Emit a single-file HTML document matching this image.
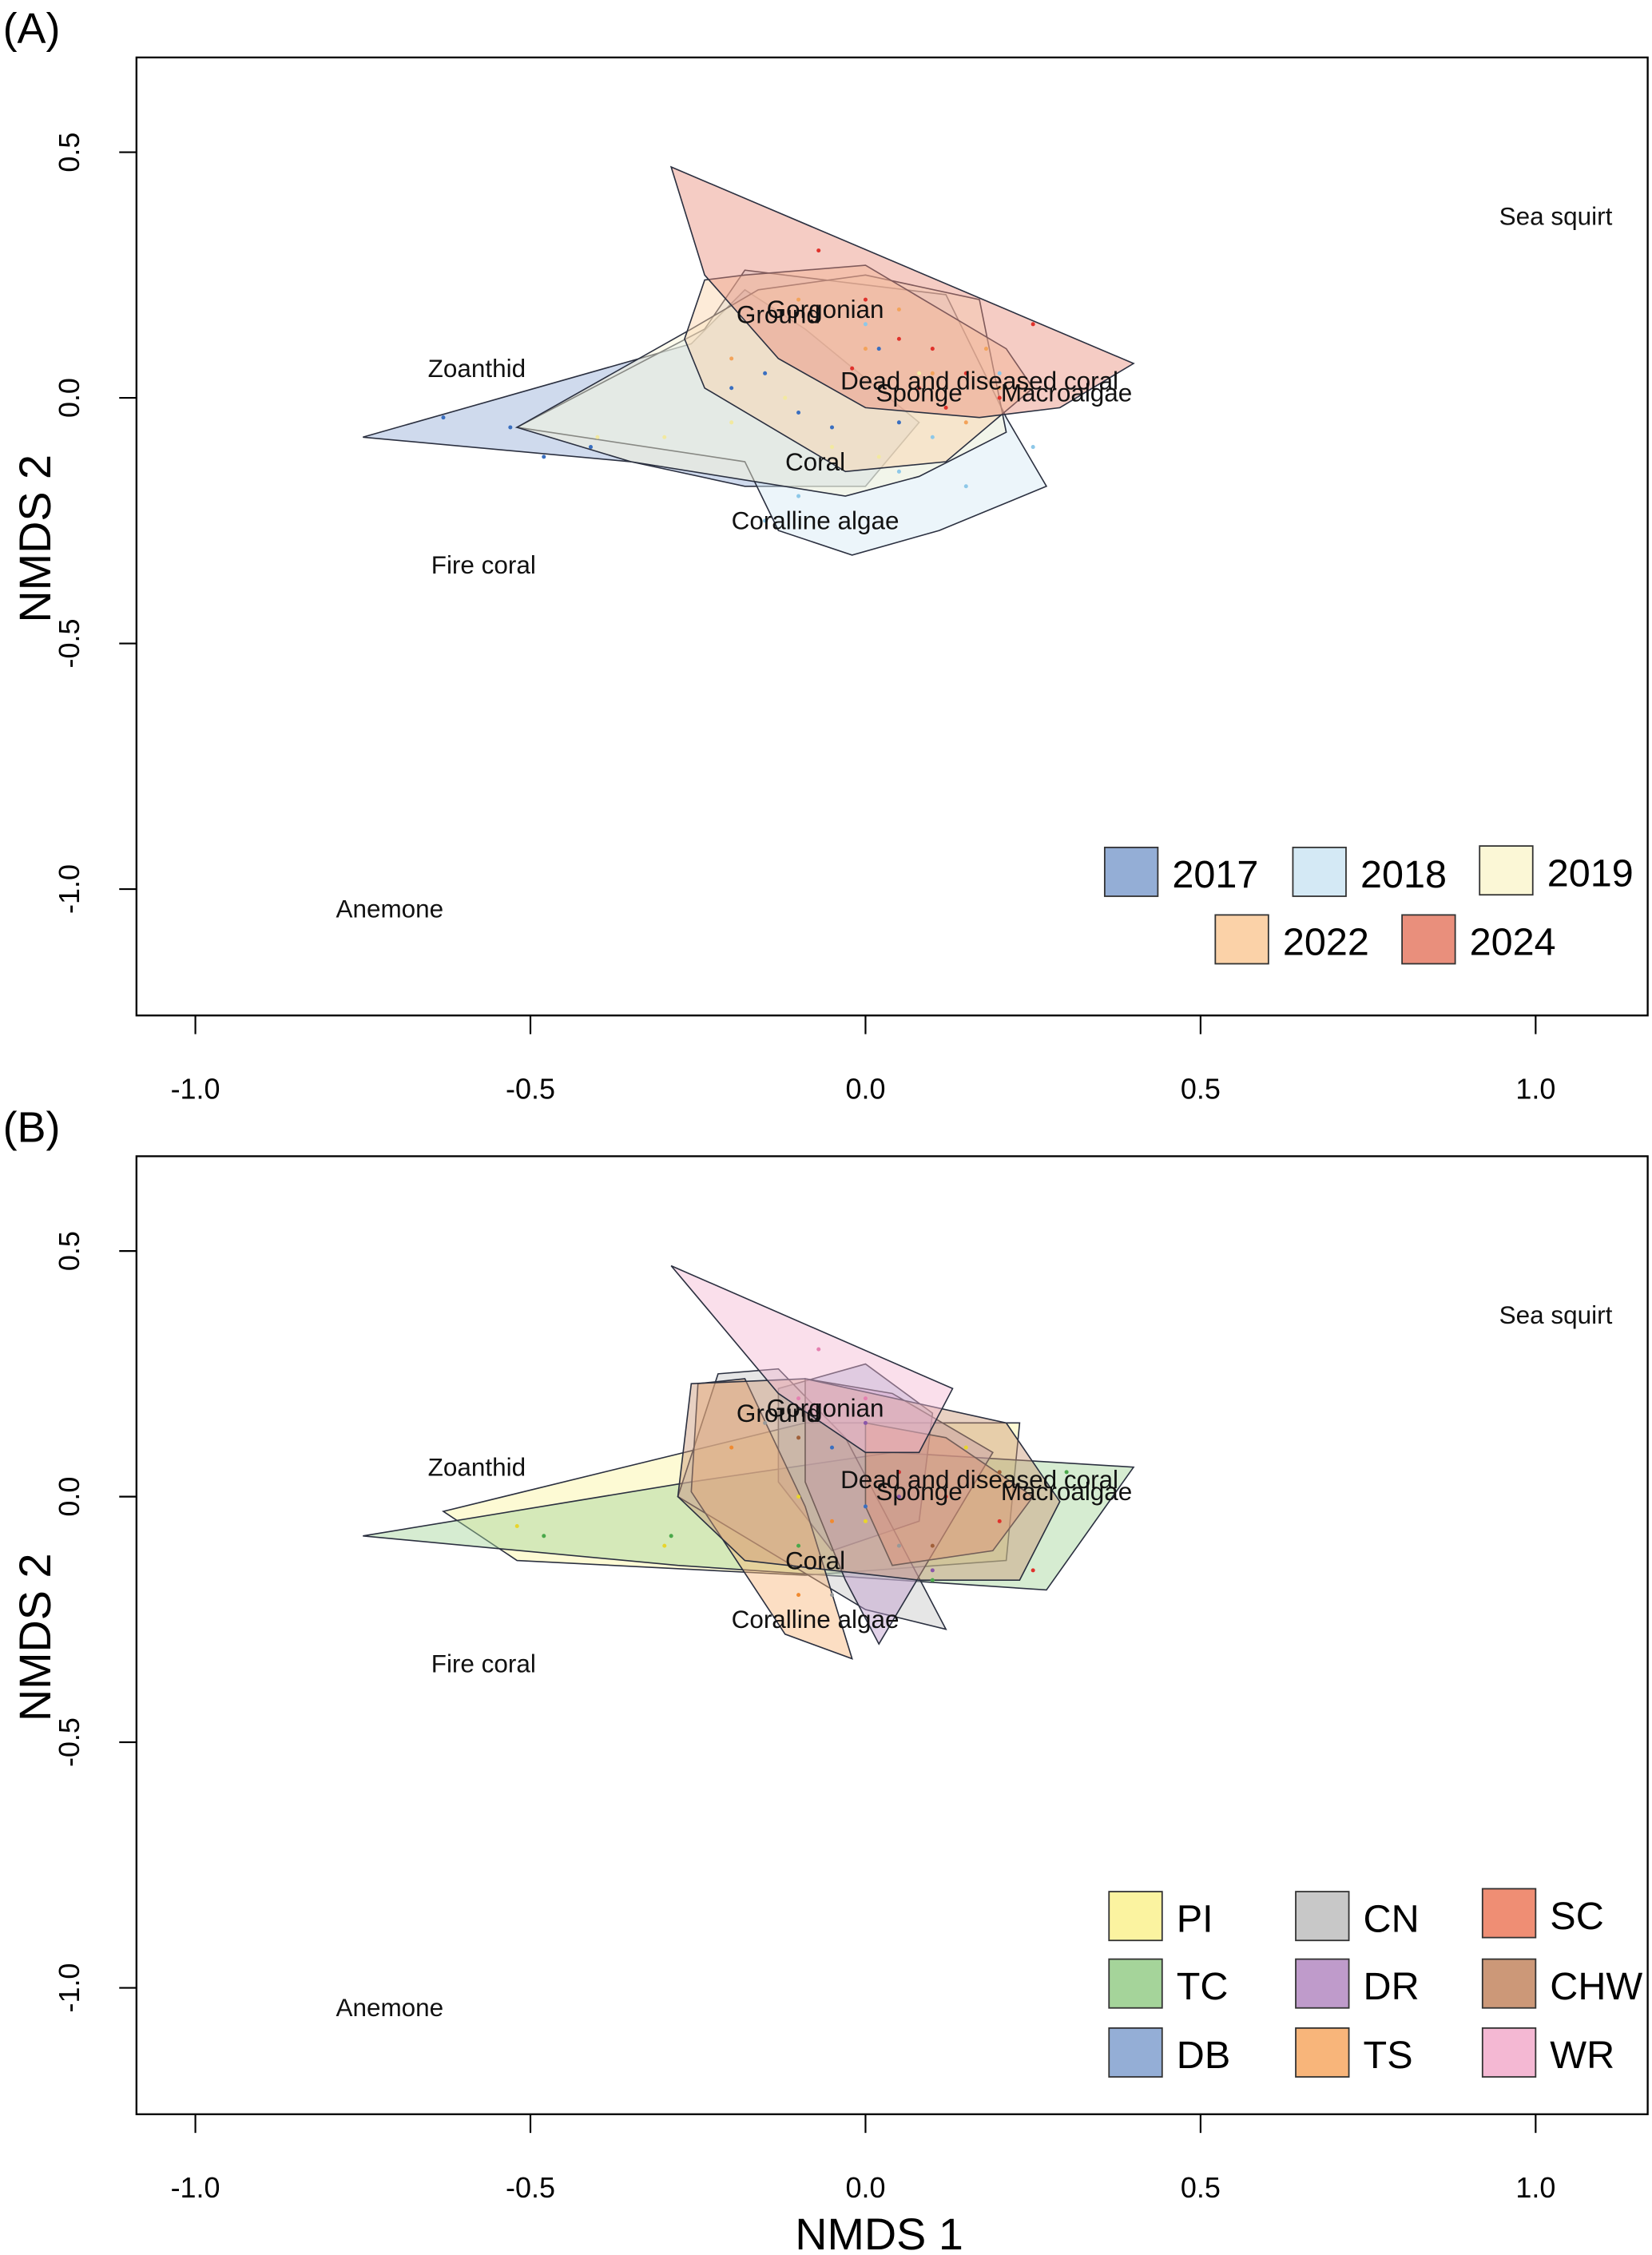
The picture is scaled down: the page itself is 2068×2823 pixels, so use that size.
<!DOCTYPE html>
<html><head><meta charset="utf-8"><style>
html,body{margin:0;padding:0;background:#fff}
svg{display:block}
text{font-family:"Liberation Sans","DejaVu Sans",sans-serif}
</style></head>
<body>
<svg id="chart" width="2068" height="2823" viewBox="0 0 1150 1570" preserveAspectRatio="none" xmlns="http://www.w3.org/2000/svg"></svg>
<script>
const xTicks=[-1.0,-0.5,0.0,0.5,1.0];
const xTickLabels=["-1.0","-0.5","0.0","0.5","1.0"];
const yTicks=[0.5,0.0,-0.5,-1.0];
const yTickLabels=["0.5","0.0","-0.5","-1.0"];
const speciesNames=["Sea squirt","Gorgonian","Ground","Zoanthid","Dead and diseased coral","Sponge","Macroalgae","Coral","Coralline algae","Fire coral","Anemone"];
const speciesX=[1.03,-0.06,-0.13,-0.58,0.17,0.08,0.30,-0.075,-0.075,-0.57,-0.71];
const speciesY=[0.37,0.18,0.17,0.06,0.035,0.01,0.01,-0.13,-0.25,-0.34,-1.04];

const yearGroups=["2017","2018","2019","2022","2024"];
const yearColors=["#94aed6","#d4e9f5","#fbf7d6","#fbd2a8","#e98f7c"];
const yearPointColors=["#3a6fc0","#8ec8e8","#f2e9a0","#f3a35a","#e0312b"];
const yearHulls=[
 [[-0.75,-0.08],[-0.35,-0.13],[-0.18,-0.18],[0,-0.18],[0.08,-0.05],[-0.09,0.14],[-0.18,0.22],[-0.26,0.11]],
 [[-0.52,-0.06],[-0.24,0.14],[-0.18,0.26],[0.12,0.21],[0.21,-0.04],[0.27,-0.18],[0.11,-0.27],[-0.02,-0.32],[-0.13,-0.27],[-0.18,-0.13]],
 [[-0.52,-0.06],[-0.26,0.14],[-0.16,0.22],[0,0.25],[0.17,0.2],[0.21,-0.07],[0.08,-0.16],[-0.03,-0.2],[-0.35,-0.13]],
 [[-0.27,0.12],[-0.24,0.24],[-0.18,0.25],[0,0.27],[0.21,0.1],[0.25,0.02],[0.12,-0.13],[-0.03,-0.15],[-0.24,0.02]],
 [[-0.29,0.47],[0.40,0.07],[0.29,-0.02],[0.17,-0.04],[0,-0.02],[-0.13,0.08],[-0.24,0.25]]
];
const yearPointsX=[[-0.63,-0.53,-0.48,-0.41,-0.2,-0.15,-0.1,-0.05,0.02,0.05],[-0.1,0.05,0.15,0.2,0.25,-0.15,0.1,0.0],[-0.3,-0.2,-0.12,-0.05,0.02,0.08,-0.4,0.12],[-0.1,0.05,0.1,0.18,0.2,-0.2,0.0,0.15],[-0.07,0.0,0.05,0.1,0.15,0.2,0.25,0.08,-0.02,0.12]];
const yearPointsY=[[-0.04,-0.06,-0.12,-0.1,0.02,0.05,-0.03,-0.06,0.1,-0.05],[-0.2,-0.15,-0.18,0.05,-0.1,-0.25,-0.08,0.15],[-0.08,-0.05,0.0,-0.1,-0.12,0.05,-0.08,-0.02],[0.2,0.18,0.05,0.1,0.02,0.08,0.1,-0.05],[0.3,0.2,0.12,0.1,0.05,0.0,0.15,0.02,0.06,-0.02]];

const siteGroups=["PI","TC","DB","CN","DR","TS","SC","CHW","WR"];
const siteColors=["#fbf3a0","#a5d49a","#94aed6","#c8c8c8","#bf9bcb","#f8b57a","#ef8e74","#cc9878","#f4b8d3"];
const sitePointColors=["#e8d52c","#4aa84a","#3a6fc0","#999999","#8a56a8","#f08a30","#e0312b","#a0603a","#e580b0"];
const siteHulls=[
 [[-0.63,-0.03],[-0.52,-0.13],[-0.09,-0.16],[0.21,-0.13],[0.23,0.15],[-0.09,0.15]],
 [[-0.75,-0.08],[-0.28,-0.14],[0.27,-0.19],[0.40,0.06],[0.04,0.09],[-0.26,0.03]],
 [[-0.13,0.22],[0,0.27],[0.1,0.17],[0.08,-0.05],[-0.05,-0.11],[-0.13,0.03]],
 [[-0.22,0.25],[-0.13,0.26],[-0.03,0.12],[0.12,-0.27],[0,-0.23],[-0.28,0.0]],
 [[-0.09,0.24],[0.04,0.21],[0.19,0.09],[0.02,-0.30],[-0.03,-0.17],[-0.09,0.03]],
 [[-0.25,0.23],[-0.18,0.24],[-0.09,-0.02],[-0.02,-0.33],[-0.12,-0.28],[-0.26,0.01]],
 [[0,0.15],[0.12,0.12],[0.25,0.0],[0.19,-0.11],[0.04,-0.14],[0,-0.02]],
 [[-0.26,0.23],[-0.09,0.24],[0.21,0.15],[0.29,-0.01],[0.23,-0.17],[0.08,-0.17],[-0.18,-0.13],[-0.28,0.0]],
 [[-0.29,0.47],[0.13,0.22],[0.08,0.09],[0,0.09],[-0.13,0.21]]
];
const sitePointsX=[[-0.52,-0.3,-0.1,0.0,0.15],[-0.48,-0.29,-0.1,0.1,0.3],[-0.05,0.0,0.05],[-0.15,-0.05,0.05],[0.0,0.05,0.1],[-0.2,-0.1,-0.05],[0.05,0.12,0.2,0.25],[-0.1,0.1,0.2],[-0.07,0.0,-0.1]];
const sitePointsY=[[-0.06,-0.1,0.0,-0.05,0.1],[-0.08,-0.08,-0.1,-0.17,0.05],[0.1,-0.02,0.05],[0.15,-0.2,-0.1],[0.15,0.0,-0.15],[0.1,-0.2,-0.05],[0.05,0.0,-0.05,-0.15],[0.12,-0.1,0.05],[0.3,0.2,0.2]];

const NS="http://www.w3.org/2000/svg";
const svg=document.getElementById('chart');
function mk(tag,attrs,parent){const e=document.createElementNS(NS,tag);for(const k in attrs)e.setAttribute(k,attrs[k]);(parent||svg).appendChild(e);return e;}

function panel(offY,label,hulls,colors,ptsX,ptsY,ptColors,names,legendPos){
  const g=mk('g',{});
  
  
  const sx=v=>602.5+v*466.5;
  const sy=v=>277+offY-v*342;
  const L=95,R=1147,T=40+offY,B=707+offY;
  const pl=mk('text',{x:2,y:30+offY,'font-size':30},g);pl.textContent=label;
  
  hulls.forEach((h,i)=>{
    const p=mk('polygon',{points:h.map(q=>sx(q[0])+','+sy(q[1])).join(' '),fill:colors[i],'fill-opacity':0.45,stroke:'#2b3040','stroke-width':0.9},g);
    
    
  });
  ptsX.forEach((arr,i)=>arr.forEach((x,j)=>{
    const c=mk('circle',{cx:sx(x),cy:sy(ptsY[i][j]),r:1.4,fill:ptColors[i]},g);
    
    
  }));
  speciesNames.forEach((s,i)=>{
    const t=mk('text',{x:sx(speciesX[i]),y:sy(speciesY[i])+6,'font-size':17.5,'text-anchor':'middle',fill:'#111'},g);
    t.textContent=s;
    
    
  });
  const box=mk('rect',{x:L,y:T,width:R-L,height:B-T,fill:'none',stroke:'#000','stroke-width':1.3},g);
  
  xTicks.forEach((v,i)=>{
    mk('line',{x1:sx(v),x2:sx(v),y1:B,y2:B+13,stroke:'#000','stroke-width':1.2},g);
    const t=mk('text',{x:sx(v),y:B+58,'font-size':20,'text-anchor':'middle'},g);t.textContent=xTickLabels[i];
    
  });
  yTicks.forEach((v,i)=>{
    mk('line',{x1:L,x2:L-12,y1:sy(v),y2:sy(v),stroke:'#000','stroke-width':1.2},g);
    const t=mk('text',{x:0,y:0,'font-size':20,'text-anchor':'middle',transform:`translate(55,${sy(v)}) rotate(-90)`},g);t.textContent=yTickLabels[i];
    
  });
  const yt=mk('text',{x:0,y:0,'font-size':31,'text-anchor':'middle',transform:`translate(35,${375+offY}) rotate(-90)`},g);yt.textContent="NMDS 2";
  
  legendPos.forEach((p,i)=>{
    const r=mk('rect',{x:p[0],y:p[1]+offY,width:37,height:34,fill:colors[i],stroke:'#333','stroke-width':1},g);
    
    const t=mk('text',{x:p[0]+47,y:p[1]+offY+28,'font-size':27},g);t.textContent=names[i];
    
  });
}
panel(0,"(A)",yearHulls,yearColors,yearPointsX,yearPointsY,yearPointColors,yearGroups,
  [[769,590],[900,590],[1030,589],[846,637],[976,637]]);
panel(765,"(B)",siteHulls,siteColors,sitePointsX,sitePointsY,sitePointColors,siteGroups,
  [[772,552],[772,599],[772,647],[902,552],[902,599],[902,647],[1032,550],[1032,599],[1032,647]]);
const xt=mk('text',{x:612,y:1566,'font-size':31,'text-anchor':'middle'});xt.textContent="NMDS 1";


</script>
</body></html>
